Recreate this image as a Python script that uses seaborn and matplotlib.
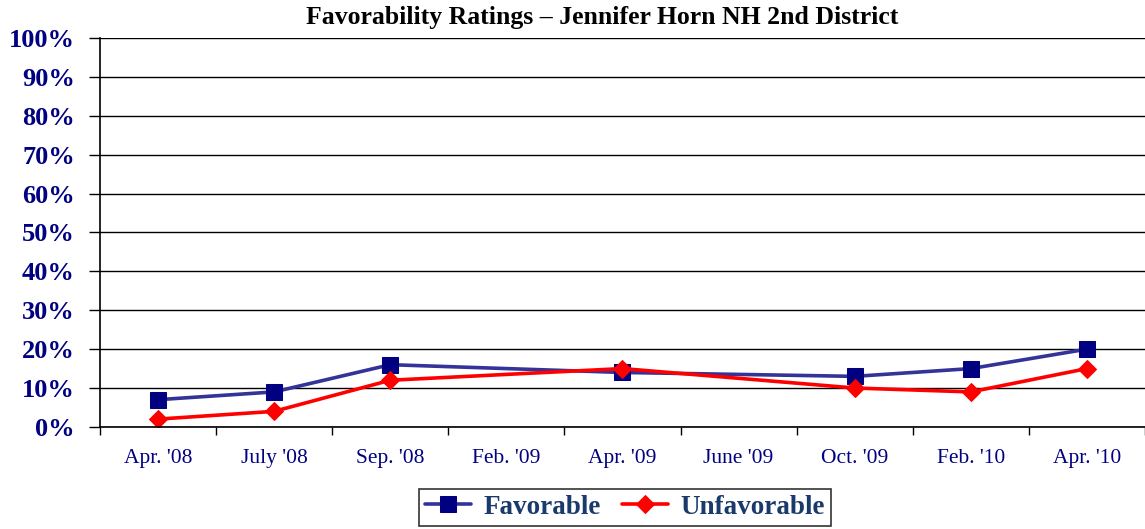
import matplotlib
matplotlib.use("Agg")
import matplotlib.pyplot as plt
import seaborn as sns
import pandas as pd
from matplotlib.ticker import FixedLocator, PercentFormatter

# ---------------- DATA ---------------- #
categories = ["Apr. '08", "July '08", "Sep. '08", "Feb. '09", "Apr. '09",
              "June '09", "Oct. '09", "Feb. '10", "Apr. '10"]
survey_dates = ["Apr. '08", "July '08", "Sep. '08", "Apr. '09",
                "Oct. '09", "Feb. '10", "Apr. '10"]
favorable = [7, 9, 16, 14, 13, 15, 20]
unfavorable = [2, 4, 12, 15, 10, 9, 15]

pos = [categories.index(d) for d in survey_dates]
df = pd.DataFrame({"pos": pos, "Favorable": favorable, "Unfavorable": unfavorable})

sns.set_style("white")
plt.rcParams["font.family"] = ["Liberation Serif", "DejaVu Serif"]

fig = plt.figure(figsize=(11.45, 5.29), dpi=100)
ax = fig.add_axes([0.0873, 0.193, 0.9127, 0.735])

sns.lineplot(data=df, x="pos", y="Favorable", ax=ax, color="#333399", lw=2.6,
             marker="s", markersize=11, markerfacecolor="#000080",
             markeredgecolor="#000080", label="Favorable")
sns.lineplot(data=df, x="pos", y="Unfavorable", ax=ax, color="#ff0000", lw=2.6,
             marker="D", markersize=9, markerfacecolor="#ff0000",
             markeredgecolor="#ff0000", label="Unfavorable")

ax.set_xlim(-0.5, len(categories) - 0.5)
ax.set_ylim(0, 100)
ax.set_xlabel("")
ax.set_ylabel("")

# y axis
ax.set_yticks(range(0, 101, 10))
ax.yaxis.set_major_formatter(PercentFormatter(decimals=0))
ax.grid(axis="y", color="black", lw=1)
ax.tick_params(axis="y", which="major", left=True, length=8, width=1, color="black",
               pad=10, labelsize=19, labelcolor="#000080")
for t in ax.get_yticklabels():
    t.set_fontweight("bold")

# x axis: ticks at category boundaries, labels at centers
ax.xaxis.set_major_locator(FixedLocator([i - 0.5 for i in range(len(categories) + 1)]))
ax.xaxis.set_minor_locator(FixedLocator(range(len(categories))))
ax.set_xticklabels([], minor=False)
ax.set_xticklabels(categories, minor=True)
ax.tick_params(axis="x", which="major", bottom=True, length=6, width=1, color="black")
ax.tick_params(axis="x", which="minor", bottom=True, length=0, pad=16,
               labelsize=15.5, labelcolor="#000080")

for s in ["top", "right"]:
    ax.spines[s].set_visible(False)
for s in ["left", "bottom"]:
    ax.spines[s].set_color("black")
    ax.spines[s].set_linewidth(1.2)

fig.suptitle("Favorability Ratings \u2013 Jennifer Horn NH 2nd District",
             x=0.526, y=0.988, fontsize=18.5, fontweight="bold", color="black")

ax.get_legend().remove()
handles, labels = ax.get_legend_handles_labels()
leg = fig.legend(handles, labels, loc="lower center", bbox_to_anchor=(0.546, 0.006),
                 borderaxespad=0, ncol=2, frameon=True, fancybox=False,
                 edgecolor="black", prop={"size": 19.5, "weight": "bold"},
                 handlelength=1.7, columnspacing=0.8, handletextpad=0.45,
                 borderpad=0.22)
leg.get_frame().set_linewidth(1.2)
for t in leg.get_texts():
    t.set_color("#1a3a6b")

fig.savefig("out.png", dpi=100)
